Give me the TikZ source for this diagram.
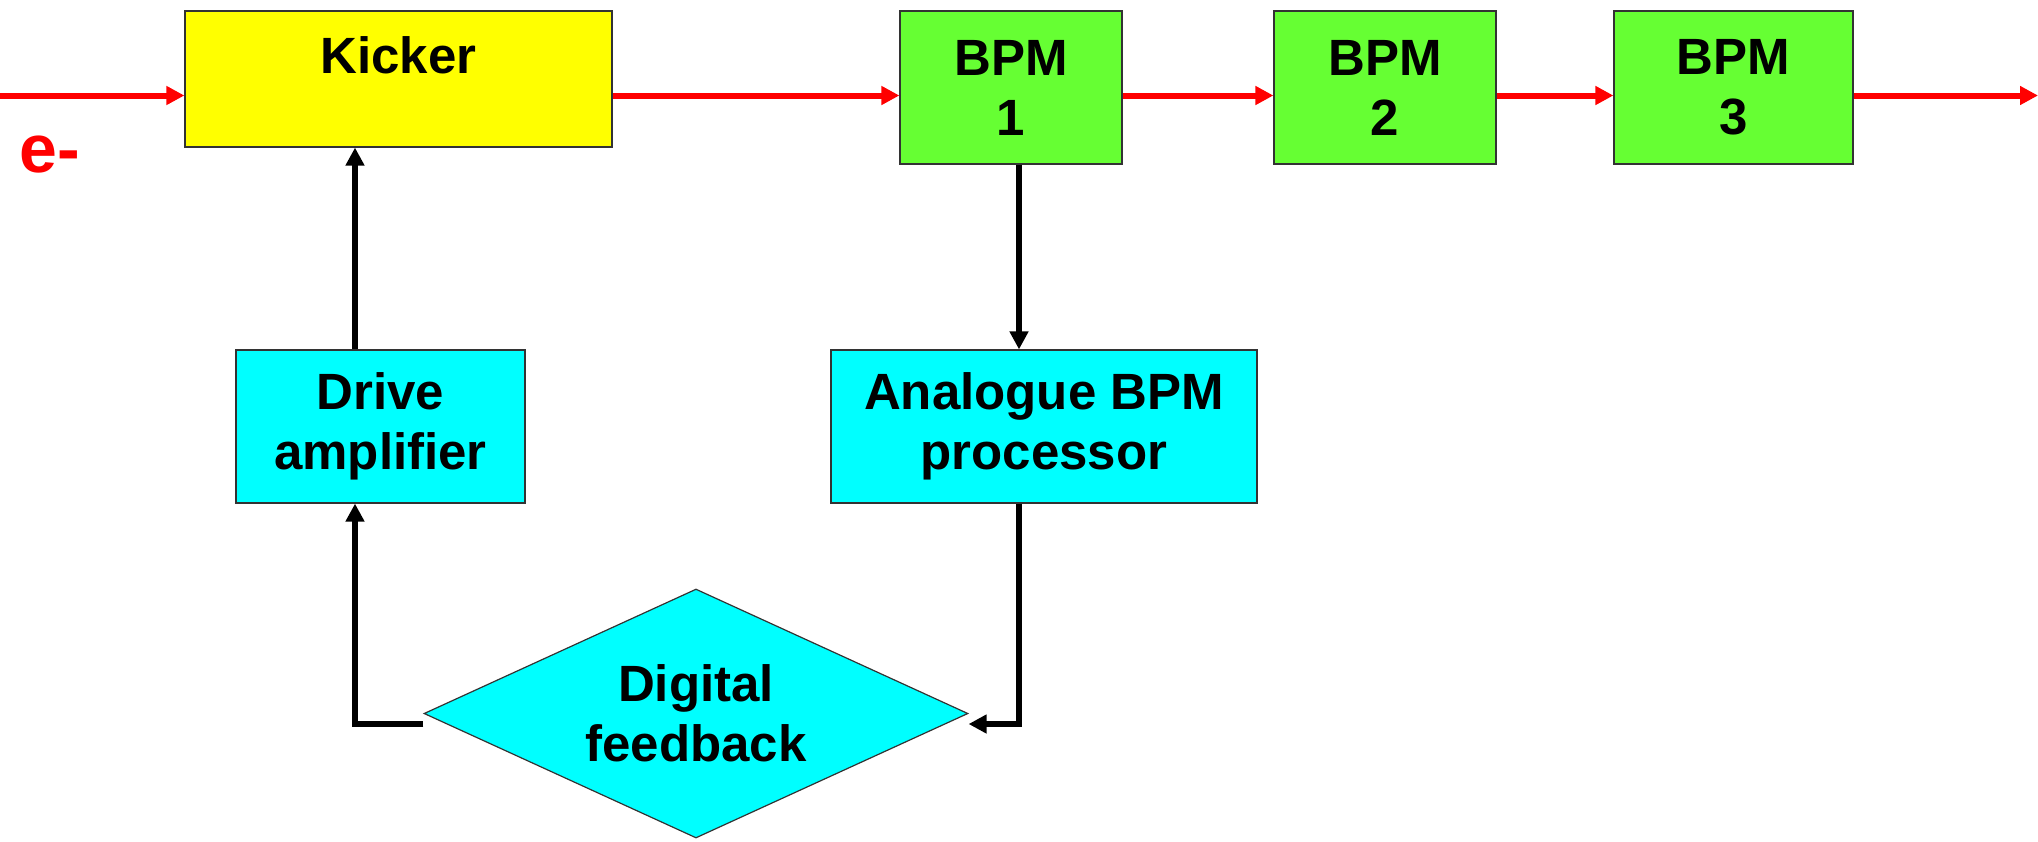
\documentclass[tikz,border=0pt]{standalone}
\usepackage{fontspec}
\setmainfont{Liberation Sans}
\usetikzlibrary{arrows.meta,shapes.geometric}
\definecolor{kickyellow}{HTML}{FFFF00}
\definecolor{bpmgreen}{HTML}{66FF33}
\definecolor{proccyan}{HTML}{00FFFF}
\definecolor{beamred}{HTML}{FF0000}
\begin{document}
\begin{tikzpicture}[x=0.5pt,y=-0.5pt,
		block/.style={draw=black!80,line width=0.6pt,align=center,inner sep=0pt,font=\bfseries\fontsize{25.5pt}{30pt}\selectfont},
		bpmbox/.style={block,fill=bpmgreen,minimum width=111pt,minimum height=76.5pt},
		procbox/.style={block,fill=proccyan,minimum height=76.5pt},
		beam/.style={beamred,line width=3pt,-{Triangle[length=9pt,width=9pt]}},
		signal/.style={black,line width=2.8pt,-{Triangle[length=9pt,width=9pt]}}]
				\useasboundingbox (0,0) rectangle (2038,841);
				\coordinate (in) at (0,95.5);
				\coordinate (out) at (2038,95.5);
				\coordinate (fbl) at (355,724);
				\coordinate (fbr) at (1019,724);
				\node[block,fill=kickyellow,minimum width=213.5pt,minimum height=68pt,text height=18.3pt,text depth=24.3pt] (kick) at (398.5,79) {Kicker};
				\node[bpmbox] (bpm1) at (1011,87.5) {BPM\\1};
				\node[bpmbox] (bpm2) at (1385,87.5) {BPM\\2};
				\node[bpmbox,minimum width=119.5pt] (bpm3) at (1733.5,87.5) {BPM\\3};
				\node[procbox,minimum width=144.5pt] (drive) at (380.5,426.5) {Drive\\amplifier};
				\node[procbox,minimum width=213pt] (ana) at (1044,426.5) {Analogue BPM\\processor};
				\node[block,diamond,aspect=2.18,fill=proccyan,minimum width=272pt,minimum height=124.5pt] (fb) at (696,713.5) {Digital\\feedback};
				\node[beamred,font=\bfseries\fontsize{34pt}{40pt}\selectfont,anchor=base west,inner sep=0pt] (elec) at (19,172) {e-};
				\draw[beam] (in) -- (in -| kick.west);
				\draw[beam] (in -| kick.east) -- (in -| bpm1.west);
				\draw[beam] (in -| bpm1.east) -- (in -| bpm2.west);
				\draw[beam] (in -| bpm2.east) -- (in -| bpm3.west);
				\draw[beam] (in -| bpm3.east) -- (out);
				\draw[signal] (bpm1.south -| fbr) -- (ana.north -| fbr);
				\draw[signal] (ana.south -| fbr) -- (fbr) -- (fbr -| fb.east);
				\draw[signal] (fbl -| fb.west) -- (fbl) -- (drive.south -| fbl);
				\draw[signal] (drive.north -| fbl) -- (kick.south -| fbl);
			\end{tikzpicture}
\end{document}
